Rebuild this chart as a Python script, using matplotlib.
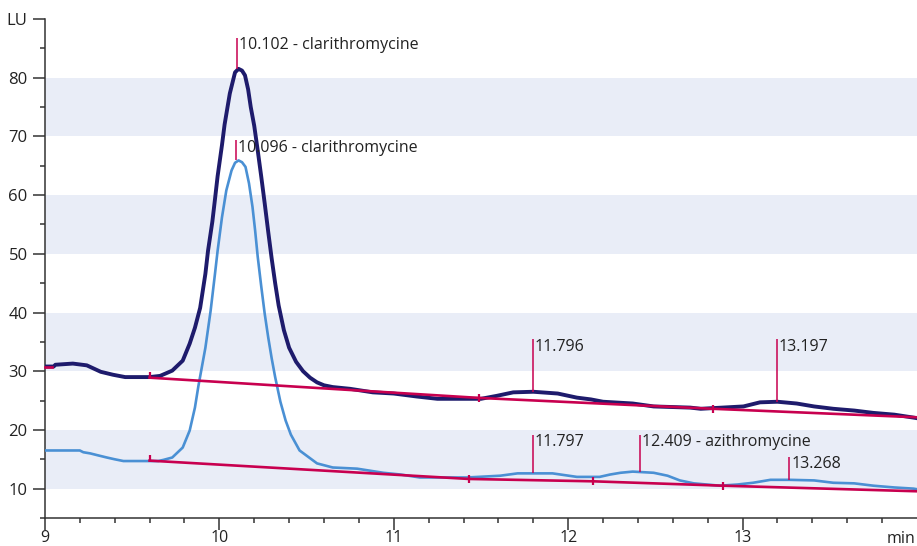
import matplotlib
matplotlib.use("Agg")
import matplotlib.pyplot as plt

plt.rcParams['font.family'] = ['Open Sans', 'DejaVu Sans']

# upper trace (dark)
dark_t = [9.00, 9.05, 9.06, 9.16, 9.24, 9.32, 9.39, 9.46, 9.60, 9.66, 9.73, 9.79,
          9.83, 9.86, 9.89, 9.92, 9.935, 9.96, 9.975, 9.99, 10.015, 10.03, 10.06,
          10.09, 10.11, 10.13, 10.147, 10.165, 10.18, 10.20, 10.22, 10.24, 10.26,
          10.28, 10.30, 10.32, 10.34, 10.37, 10.40, 10.44, 10.48, 10.52,
          10.56, 10.60, 10.65, 10.75, 10.88, 11.0, 11.13, 11.25, 11.5, 11.59,
          11.685, 11.80, 11.94, 12.05, 12.13, 12.20, 12.37, 12.49, 12.70, 12.76,
          13.005, 13.10, 13.20, 13.31, 13.41, 13.52, 13.64, 13.75, 13.87, 13.98, 14.0]
dark_lu = [30.8, 30.8, 31.1, 31.3, 31.0, 29.9, 29.4, 29.0, 29.0, 29.2, 30.1, 31.8,
           34.7, 37.4, 40.8, 46.6, 50.5, 55.5, 59.3, 63.2, 68.5, 72.0, 77.3,
           80.9, 81.5, 81.2, 80.4, 78.0, 75.0, 71.8, 67.6, 63.2, 58.6,
           53.8, 49.2, 45.0, 41.2, 37.0, 34.0, 31.6, 30.0, 28.9,
           28.1, 27.6, 27.3, 27.0, 26.4, 26.2, 25.7, 25.3, 25.3, 25.8,
           26.4, 26.5, 26.2, 25.5, 25.2, 24.8, 24.5, 24.0, 23.8, 23.6,
           24.0, 24.7, 24.8, 24.5, 24.0, 23.6, 23.3, 22.9, 22.6, 22.1, 22.0]

# lower trace (light)
light_t = [9.00, 9.20, 9.22, 9.26, 9.30, 9.355, 9.40, 9.45, 9.65, 9.68, 9.73, 9.79,
           9.83, 9.86, 9.88, 9.92, 9.95, 9.975, 9.99, 10.015, 10.04, 10.07, 10.09,
           10.11, 10.13, 10.15, 10.17, 10.19, 10.205, 10.22, 10.24, 10.26, 10.28,
           10.30, 10.32, 10.35, 10.38, 10.41, 10.46, 10.56, 10.65, 10.79, 10.94,
           11.04, 11.15, 11.42, 11.61, 11.71, 11.80, 11.91, 12.05, 12.18, 12.24,
           12.30, 12.37, 12.49, 12.57, 12.64, 12.72, 12.87, 12.97, 13.06, 13.16,
           13.27, 13.41, 13.52, 13.64, 13.75, 13.87, 13.98, 14.0]
light_lu = [16.5, 16.5, 16.2, 16.0, 15.7, 15.3, 15.0, 14.7, 14.7, 14.9, 15.3, 17.0,
            19.9, 23.8, 27.5, 34.0, 40.3, 46.6, 50.5, 56.2, 60.8, 64.2, 65.5,
            65.9, 65.6, 64.8, 62.0, 58.0, 54.0, 49.5, 44.5, 39.8, 35.8,
            32.2, 29.0, 24.8, 21.6, 19.2, 16.5, 14.3, 13.6, 13.4, 12.7,
            12.4, 11.9, 11.9, 12.2, 12.6, 12.6, 12.6, 12.0, 12.0, 12.4,
            12.7, 12.9, 12.7, 12.2, 11.4, 10.9, 10.5, 10.7, 11.0, 11.5,
            11.5, 11.4, 11.0, 10.9, 10.5, 10.2, 10.0, 9.9]

# integration baselines
dark_base_t = [9.60, 11.49, 12.83, 14.0]
dark_base_lu = [28.9, 25.45, 23.6, 22.15]
light_base_t = [9.60, 11.43, 12.14, 12.89, 14.0]
light_base_lu = [14.77, 11.65, 11.25, 10.5, 9.55]

# peak labels: time, line bottom, line top, label
peaks = [
    (10.102, 81.5, 86.8, "10.102 - clarithromycine"),
    (10.096, 65.9, 69.3, "10.096 - clarithromycine"),
    (11.796, 26.5, 35.5, "11.796"),
    (13.197, 24.8, 35.5, "13.197"),
    (11.797, 12.6, 19.2, "11.797"),
    (12.409, 12.9, 19.2, "12.409 - azithromycine"),
    (13.268, 11.5, 15.45, "13.268"),
]

navy = "#1e1b6c"
lightblue = "#4a90d4"
crimson = "#c8004f"
band = "#e9edf7"

fig = plt.figure(figsize=(9.17, 5.46), dpi=100)
ax = fig.add_axes([0.049, 0.0513, 0.951, 0.914])

for lo in (10, 30, 50, 70):
    ax.axhspan(lo, lo + 10, color=band, lw=0, zorder=0)

ax.plot(light_t, light_lu, color=lightblue, lw=1.9, zorder=3)
ax.plot(dark_t, dark_lu, color=navy, lw=2.8, zorder=3)

ax.plot(dark_base_t, dark_base_lu, color=crimson, lw=1.9, zorder=4)
ax.plot(light_base_t, light_base_lu, color=crimson, lw=1.9, zorder=4)
ax.plot([9.0, 9.04], [30.8, 30.8], color=crimson, lw=1.9, zorder=4, clip_on=False)

# baseline markers
for bt, bl in ((dark_base_t, dark_base_lu), (light_base_t, light_base_lu)):
    ax.vlines(bt[0], bl[0], bl[0] + 1.0, color=crimson, lw=1.6, zorder=4)
    for t, v in zip(bt[1:-1], bl[1:-1]):
        ax.vlines(t, v - 0.7, v + 0.7, color=crimson, lw=1.6, zorder=4)

for t, y0, y1, txt in peaks:
    ax.vlines(t, y0, y1, color=crimson, lw=1.1, zorder=5)
    ax.text(t + 0.012, y1 - 1.3, txt, fontsize=11.5, color="#222222",
            va='center', ha='left', zorder=6)

ax.set_xlim(9, 14.0)
ax.set_ylim(5, 90)
ax.set_xticks([9, 10, 11, 12, 13])
ax.set_xticks([9 + 0.2 * i for i in range(25)], minor=True)
ax.set_yticks([10, 20, 30, 40, 50, 60, 70, 80, 90])
ax.set_yticklabels(['10', '20', '30', '40', '50', '60', '70', '80', 'LU'])
ax.set_yticks([5 + 10 * i for i in range(9)], minor=True)

for s in ('top', 'right'):
    ax.spines[s].set_visible(False)
for s in ('left', 'bottom'):
    ax.spines[s].set_color('#333333')
    ax.spines[s].set_linewidth(1.1)

ax.tick_params(which='major', length=8.5, width=1.1, color='#333333',
               labelsize=12, labelcolor='#222222')
ax.tick_params(which='minor', length=3.5, width=1.1, color='#333333')
ax.tick_params(axis='x', which='major', pad=0.5, labelsize=11.5)
ax.tick_params(axis='y', which='major', pad=4)

ax.text(13.99, 1.4, 'min', fontsize=11.5, color='#222222', ha='right', va='center',
        clip_on=False)

fig.savefig("out.png", dpi=100)
